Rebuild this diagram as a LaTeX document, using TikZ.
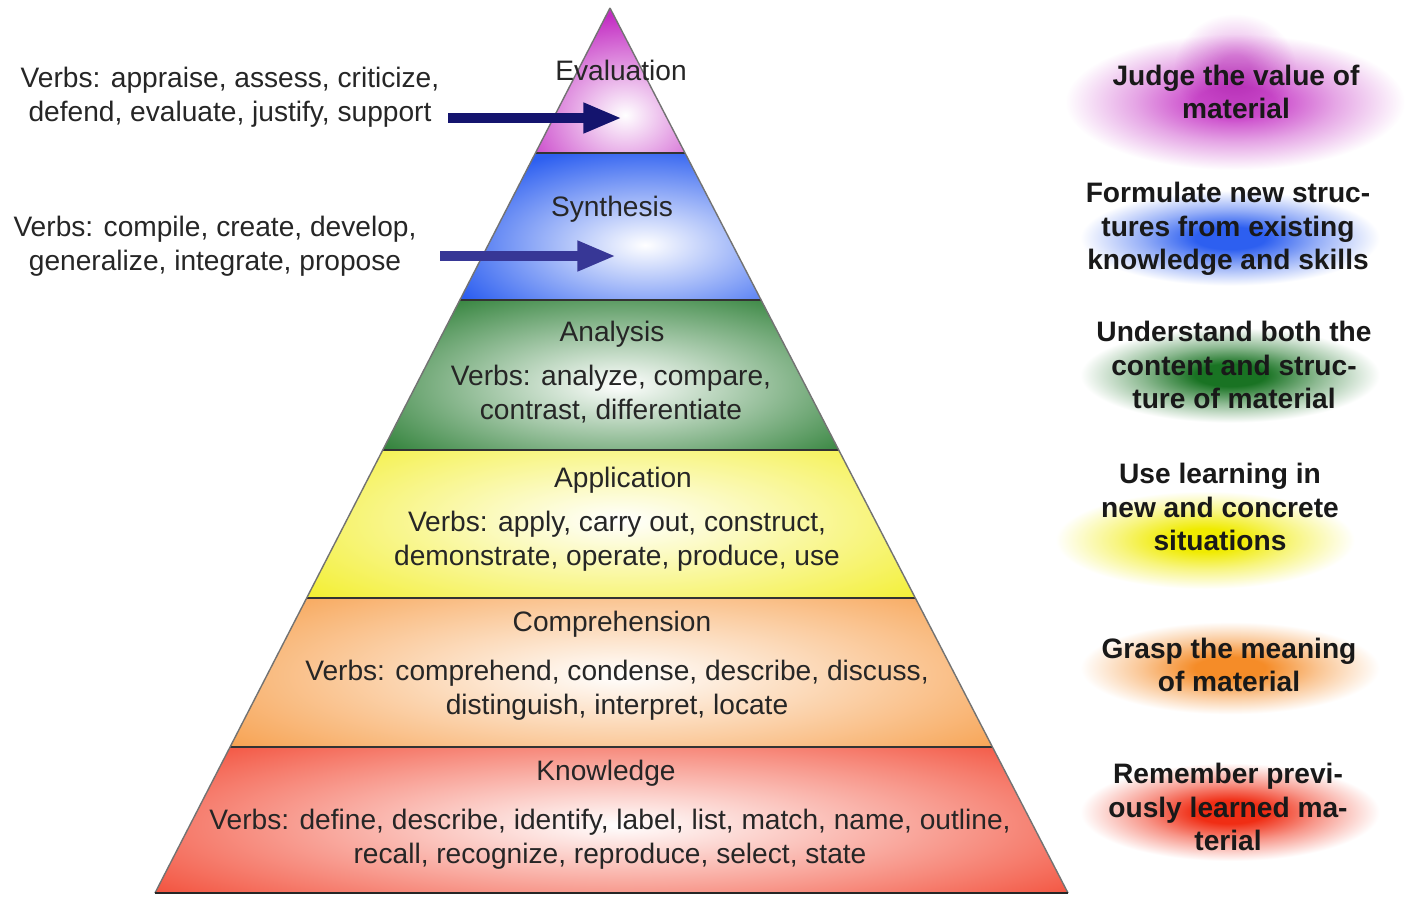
\documentclass[tikz,border=0pt]{standalone}
\usepackage{fontspec}
\setmainfont{Liberation Sans}
\usetikzlibrary{arrows.meta,calc}
\definecolor{evalc}{RGB}{195,45,195}
\definecolor{sync}{RGB}{45,95,240}
\definecolor{anac}{RGB}{25,115,35}
\definecolor{appc}{RGB}{240,235,0}
\definecolor{compc}{RGB}{245,140,40}
\definecolor{knowc}{RGB}{240,45,20}
\definecolor{arra}{RGB}{20,20,110}
\definecolor{arrb}{RGB}{55,55,150}
\colorlet{gc}{red}
\pgfdeclareradialshading[gc]{glowshade}{\pgfpointorigin}{color(0bp)=(gc); color(4bp)=(gc); color(10bp)=(gc!50!white); color(17bp)=(white); color(50bp)=(white)}
\begin{document}
\begin{tikzpicture}[x=0.01cm,y=-0.01cm,
  lbl/.style={font=\fontsize{8}{9.6}\selectfont, align=center, inner sep=0pt, text=black!85},
  rlbl/.style={font=\bfseries\fontsize{8}{9.6}\selectfont, align=center, inner sep=0pt, text=black!90},
  sepline/.style={draw=black!80, line width=0.5pt},
  arr/.style={line width=2.8pt, -{Triangle[length=11pt,width=8pt]}},
  glow/.style={shading=glowshade, blend mode=multiply},
]
\useasboundingbox[fill=white] (0,0) rectangle (1412,896);

% ---- glows on the right ----
\colorlet{gc}{evalc!85!white}
\shade[glow] (1235,102) ellipse (2.5cm and 1.0cm);
\colorlet{gc}{evalc!45!white}
\shade[glow] (1235,68) ellipse (0.9cm and 0.8cm);
\colorlet{gc}{sync}
\shade[glow] (1230,238) ellipse (2.2cm and 0.7cm);
\colorlet{gc}{anac}
\shade[glow] (1230,375) ellipse (2.2cm and 0.7cm);
\colorlet{gc}{appc}
\shade[glow] (1205,540) ellipse (2.2cm and 0.72cm);
\colorlet{gc}{compc}
\shade[glow] (1230,668) ellipse (2.2cm and 0.68cm);
\colorlet{gc}{knowc}
\shade[glow] (1230,812) ellipse (2.2cm and 0.72cm);

% ---- pyramid bands ----
\fill[evalc] (610,8) -- (685,153) -- (535.4,153) -- cycle;
\begin{scope}
\clip (610,8) -- (685,153) -- (535.4,153) -- cycle;
\shade[inner color=white, outer color=evalc] (625,115) ellipse (1.2cm and 1.0cm);
\end{scope}

\fill[sync] (535.4,153) -- (685,153) -- (761.1,300) -- (459.9,300) -- cycle;
\begin{scope}
\clip (535.4,153) -- (685,153) -- (761.1,300) -- (459.9,300) -- cycle;
\shade[inner color=white, outer color=sync] (645,245) ellipse (2.1cm and 1.0cm);
\end{scope}

\fill[anac] (459.9,300) -- (761.1,300) -- (838.7,450) -- (382.8,450) -- cycle;
\begin{scope}
\clip (459.9,300) -- (761.1,300) -- (838.7,450) -- (382.8,450) -- cycle;
\shade[inner color=white, outer color=anac] (620,385) ellipse (3.3cm and 1.2cm);
\end{scope}

\fill[appc] (382.8,450) -- (838.7,450) -- (915.3,598) -- (306.7,598) -- cycle;
\begin{scope}
\clip (382.8,450) -- (838.7,450) -- (915.3,598) -- (306.7,598) -- cycle;
\shade[inner color=white, outer color=appc] (620,520) ellipse (5cm and 1.5cm);
\end{scope}

\fill[compc] (306.7,598) -- (915.3,598) -- (992.4,747) -- (230.1,747) -- cycle;
\begin{scope}
\clip (306.7,598) -- (915.3,598) -- (992.4,747) -- (230.1,747) -- cycle;
\shade[inner color=white, outer color=compc] (620,675) ellipse (6cm and 1.5cm);
\end{scope}

\fill[knowc] (230.1,747) -- (992.4,747) -- (1068,893) -- (155,893) -- cycle;
\begin{scope}
\clip (230.1,747) -- (992.4,747) -- (1068,893) -- (155,893) -- cycle;
\shade[inner color=white, outer color=knowc] (620,825) ellipse (7cm and 1.4cm);
\end{scope}

% separators and outline
\draw[sepline] (535.4,153) -- (685,153);
\draw[sepline] (459.9,300) -- (761.1,300);
\draw[sepline] (382.8,450) -- (838.7,450);
\draw[sepline] (306.7,598) -- (915.3,598);
\draw[sepline] (230.1,747) -- (992.4,747);
\draw[draw=black!55, line width=0.4pt] (610,8) -- (1068,893);
\draw[draw=black!55, line width=0.4pt] (610,8) -- (155,893);
\draw[draw=black!85, line width=0.8pt] (155,893) -- (1068,893);

% ---- pyramid texts ----
\node[lbl] (ev) at (621,70) {Evaluation};
\node[lbl] (sy) at (612,209) {Synthesis};
\node[lbl] (an) at (612,334) {Analysis};
\node[lbl] (anv) at (611,394) {Verbs: analyze, compare,\\contrast, differentiate};
\node[lbl] (ap) at (623,480) {Application};
\node[lbl] (apv) at (617,541) {Verbs: apply, carry out, construct,\\demonstrate, operate, produce, use};
\node[lbl] (co) at (612,624) {Comprehension};
\node[lbl] (cov) at (617,690) {Verbs: comprehend, condense, describe, discuss,\\distinguish, interpret, locate};
\node[lbl] (kn) at (606,773) {Knowledge};
\node[lbl] (knv) at (610,839) {Verbs: define, describe, identify, label, list, match, name, outline,\\recall, recognize, reproduce, select, state};

% ---- left texts and arrows ----
\node[lbl] (v1) at (230,97) {Verbs: appraise, assess, criticize,\\defend, evaluate, justify, support};
\node[lbl] (v2) at (215,246) {Verbs: compile, create, develop,\\generalize, integrate, propose};
\coordinate (a1s) at (448,118);
\coordinate (a1e) at (622,118);
\coordinate (a2s) at (440,256);
\coordinate (a2e) at (616,256);
\draw[arr, draw=arra] (a1s) -- (a1e);
\draw[arr, draw=arrb] (a2s) -- (a2e);

% ---- right texts ----
\node[rlbl] (r1) at (1236,92) {Judge the value of\\material};
\node[rlbl] (r2) at (1228,229) {Formulate new struc-\\tures from existing\\knowledge and skills};
\node[rlbl] (r3) at (1234,365) {Understand both the\\content and struc-\\ture of material};
\node[rlbl] (r4) at (1220,507) {Use learning in\\new and concrete\\situations};
\node[rlbl] (r5) at (1229,665) {Grasp the meaning\\of material};
\node[rlbl] (r6) at (1228,807) {Remember previ-\\ously learned ma-\\terial};
\end{tikzpicture}
\end{document}
